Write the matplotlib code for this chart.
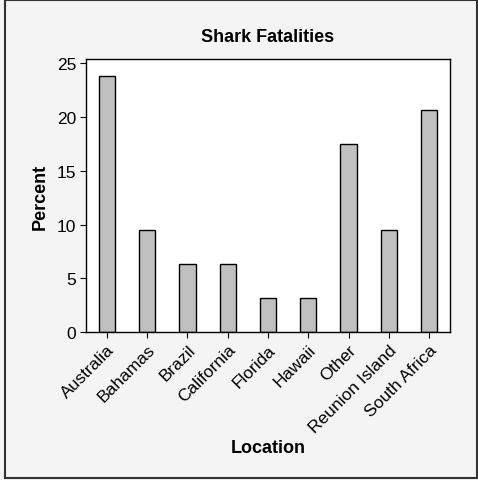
import matplotlib
matplotlib.use("Agg")
import matplotlib.pyplot as plt
from matplotlib.patches import Rectangle

plt.rcParams['font.family'] = ['Liberation Sans', 'DejaVu Sans']

locations = ["Australia", "Bahamas", "Brazil", "California", "Florida",
             "Hawaii", "Other", "Reunion Island", "South Africa"]
percent = [23.8, 9.5, 6.35, 6.35, 3.17, 3.17, 17.46, 9.5, 20.63]
yticks = [0, 5, 10, 15, 20, 25]

fig = plt.figure(figsize=(4.78, 4.81), dpi=100)
fig.patch.set_facecolor('#f4f4f4')
fig.patches.append(Rectangle((5/478, 0.004), 1 - 6/478, 0.994, transform=fig.transFigure,
                             fill=False, edgecolor='#333333', linewidth=1.5))

W, H = 478, 481
ax = fig.add_axes([86/W, 1 - 333/H, (450-86)/W, (333-60)/H])
ax.set_facecolor('white')
x = list(range(len(locations)))
ax.bar(x, percent, width=0.4, color='#c0c0c0', edgecolor='black', linewidth=1.0)
ax.set_xlim(-0.52, 8.52)
ax.set_ylim(0, 25.4)
ax.set_yticks(yticks)
ax.set_xticks(x)
ax.set_xticklabels(locations, rotation=45, ha='right', rotation_mode='anchor', fontsize=12.5)
ax.tick_params(axis='y', labelsize=12.5, length=4, width=0.8, pad=3)
ax.tick_params(axis='x', length=4, width=0.8, pad=3)
for s in ax.spines.values():
    s.set_linewidth(1.0)
ax.set_title("Shark Fatalities", fontsize=13, fontweight='bold', pad=13)
ax.set_ylabel("Percent", fontsize=13, fontweight='bold', labelpad=6)
ax.set_xlabel("Location", fontsize=13, fontweight='bold', labelpad=3)

fig.savefig("out.png", dpi=100, facecolor=fig.get_facecolor())
